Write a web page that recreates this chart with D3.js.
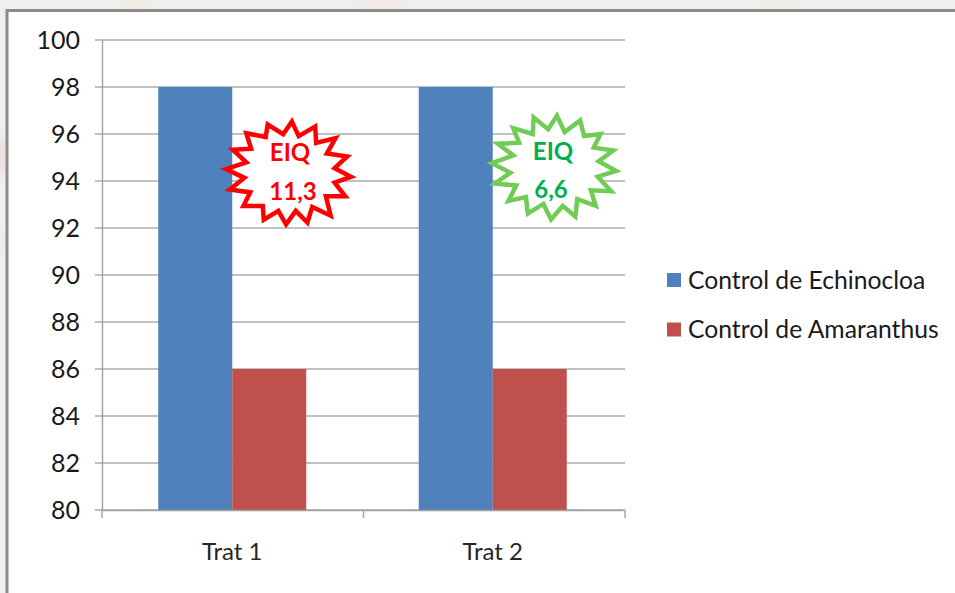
<!DOCTYPE html>
<html>
<head>
<meta charset="utf-8">
<script src="https://cdn.jsdelivr.net/npm/d3@7"></script>
<style>
  html, body { margin: 0; padding: 0; background: #efefef; overflow: hidden; }
  text { font-family: Lato, "Open Sans", sans-serif; }
</style>
</head>
<body>
<div id="wrapper"></div>
<script>
const categories = ["Trat 1", "Trat 2"];
const seriesNames = ["Control de Echinocloa", "Control de Amaranthus"];
const echinocloa = [98, 98];
const amaranthus = [86, 86];
const yTicks = [80, 82, 84, 86, 88, 90, 92, 94, 96, 98, 100];
const seriesColors = ["#4f81bd", "#c0504d"];

// hand drawn callouts, outlines traced in page pixels
const callouts = [
    {
        lines: ["EIQ", "11,3"],
        textColor: "#ff0000",
        stroke: "#ff0000",
        labelX: [290, 293],
        labelY: [153, 192],
        outline: [[292,120],[299,135],[316,125],[317,142],[337,137],[328,153],[349,156],[336,168],[353,177],[336,183],[347,197],[327,197],[332,217],[313,208],[308,224],[296,212],[286,226],[278,212],[263,221],[262,207],[242,207],[249,193],[228,190],[243,178],[224,169],[245,162],[231,149],[250,148],[245,132],[265,136],[267,123],[283,133]]
    },
    {
        lines: ["EIQ", "6,6"],
        textColor: "#00b050",
        stroke: "#70cc55",
        labelX: [553, 551],
        labelY: [152, 190],
        outline: [[557,114],[565,131],[581,119],[585,135],[602,133],[595,147],[615,150],[600,161],[618,171],[599,177],[613,192],[592,191],[597,207],[578,200],[576,218],[563,207],[551,221],[543,205],[527,215],[525,198],[507,202],[515,186],[493,184],[509,173],[490,163],[512,155],[496,143],[518,142],[512,127],[532,133],[533,116],[548,128]]
    }
];

const dimensions = {
    width: 955,
    height: 593,
    margin: { top: 40, right: 330, bottom: 83, left: 102 },
};
dimensions.boundedWidth = dimensions.width - dimensions.margin.left - dimensions.margin.right;
dimensions.boundedHeight = dimensions.height - dimensions.margin.top - dimensions.margin.bottom;

const wrapper = d3.select("#wrapper")
    .append("svg")
    .attr("width", dimensions.width)
    .attr("height", dimensions.height)
    .style("display", "block");

// faint ornaments of the slide background, only the edges show
wrapper.append("defs").append("filter")
    .attr("id", "soft")
    .append("feGaussianBlur")
    .attr("stdDeviation", 4);
const smudges = [[45, 2, 10, "#f1efea"], [135, 4, 16, "#f1ede4"], [380, 4, 22, "#f2ebe7"], [780, 6, 24, "#f0eee8"], [2, 155, 18, "#ece3e0"], [2, 240, 10, "#eeebe6"]];
wrapper.append("g")
    .attr("filter", "url(#soft)")
    .selectAll("circle")
    .data(smudges)
    .enter()
    .append("circle")
    .attr("cx", d => d[0])
    .attr("cy", d => d[1])
    .attr("r", d => d[2])
    .attr("fill", d => d[3]);

// slide frame
wrapper.append("rect")
    .attr("x", 7)
    .attr("y", 10.5)
    .attr("width", dimensions.width)
    .attr("height", dimensions.height)
    .attr("fill", "#fff")
    .attr("stroke", "#8c8c8c")
    .attr("stroke-width", 3);

const bounds = wrapper.append("g")
    .attr("transform", `translate(${dimensions.margin.left},${dimensions.margin.top})`);

// bands stop 2px short of the plot edge, the second group sits a bit left in the original
const xScaler = d3.scaleBand()
    .domain(categories)
    .range([0, dimensions.boundedWidth - 2])
    .paddingInner(0)
    .paddingOuter(0);

const barScaler = d3.scaleBand()
    .domain(seriesNames)
    .range([0, xScaler.bandwidth()])
    .paddingOuter(0.76)
    .paddingInner(0);

const yScaler = d3.scaleLinear()
    .domain([80, 100])
    .range([dimensions.boundedHeight, 0]);

// gridlines go first, bars sit over them
bounds.append("g")
    .selectAll("line")
    .data(yTicks)
    .enter()
    .append("line")
    .attr("x1", -7)
    .attr("x2", dimensions.boundedWidth)
    .attr("y1", d => yScaler(d))
    .attr("y2", d => yScaler(d))
    .attr("stroke", "#adadad")
    .attr("stroke-width", 1.4);

const rows = categories.map((c, i) => ({ category: c, values: [echinocloa[i], amaranthus[i]] }));

const groups = bounds.selectAll(".group")
    .data(rows)
    .enter()
    .append("g")
    .attr("class", "group")
    .attr("transform", d => `translate(${xScaler(d.category)},0)`);

groups.selectAll("rect")
    .data(d => d.values.map((v, i) => ({ name: seriesNames[i], value: v, color: seriesColors[i] })))
    .enter()
    .append("rect")
    .attr("x", d => barScaler(d.name))
    .attr("y", d => yScaler(d.value))
    .attr("width", barScaler.bandwidth())
    .attr("height", d => dimensions.boundedHeight - yScaler(d.value))
    .attr("fill", d => d.color);

const yAxisGen = d3.axisLeft(yScaler)
    .tickValues(yTicks)
    .tickSize(0)
    .tickPadding(22);
const yAxis = bounds.append("g").call(yAxisGen);
yAxis.selectAll("text")
    .attr("font-size", "25px")
    .attr("fill", "#1a1a1a")
    .style("font-family", "Lato, sans-serif");
yAxis.select(".domain")
    .attr("stroke", "#a0a0a0")
    .attr("stroke-width", 1.4);

const xAxisGen = d3.axisBottom(xScaler)
    .tickSize(0)
    .tickPadding(33);
const xAxis = bounds.append("g")
    .attr("transform", `translate(0,${dimensions.boundedHeight})`)
    .call(xAxisGen);
xAxis.selectAll("text")
    .attr("font-size", "24px")
    .attr("fill", "#262626")
    .style("font-family", "Lato, sans-serif");
xAxis.select(".domain")
    .attr("stroke", "#a0a0a0")
    .attr("stroke-width", 1.4);

// tick marks sit on the category boundaries, not the centres
bounds.append("g")
    .selectAll("line")
    .data([0, dimensions.boundedWidth / 2, dimensions.boundedWidth])
    .enter()
    .append("line")
    .attr("x1", d => d)
    .attr("x2", d => d)
    .attr("y1", dimensions.boundedHeight)
    .attr("y2", dimensions.boundedHeight + 8)
    .attr("stroke", "#a0a0a0")
    .attr("stroke-width", 1.4);

// legend
const legend = wrapper.append("g")
    .selectAll("g")
    .data(seriesNames)
    .enter()
    .append("g")
    .attr("transform", (d, i) => `translate(667,${280 + i * 49.5})`);

legend.append("rect")
    .attr("x", 0)
    .attr("y", -7)
    .attr("width", 14)
    .attr("height", 14)
    .attr("fill", (d, i) => seriesColors[i]);

legend.append("text")
    .attr("x", 21)
    .attr("y", 0)
    .attr("dy", "0.35em")
    .attr("font-size", "24.7px")
    .attr("fill", "#1a1a1a")
    .text(d => d);

// EIQ callouts
const callout = wrapper.append("g")
    .selectAll("g")
    .data(callouts)
    .enter()
    .append("g");

// outlines were traced on the outer edge, pull them in so the miters land there
function insetOutline(outline) {
    const [cx, cy] = d3.polygonCentroid(outline);
    return outline.map(([x, y]) => [cx + (x - cx) * 0.97, cy + (y - cy) * 0.97]);
}

callout.append("path")
    .attr("d", d => d3.line().curve(d3.curveLinearClosed)(insetOutline(d.outline)))
    .attr("fill", "#fff")
    .attr("stroke", d => d.stroke)
    .attr("stroke-width", 4.5)
    .attr("stroke-linejoin", "miter");

callout.selectAll("text")
    .data(d => d.lines.map((t, i) => ({ t, x: d.labelX[i], y: d.labelY[i], color: d.textColor })))
    .enter()
    .append("text")
    .attr("x", d => d.x)
    .attr("y", d => d.y)
    .attr("dy", "0.35em")
    .attr("text-anchor", "middle")
    .attr("font-size", "24px")
    .attr("font-weight", "bold")
    .attr("fill", d => d.color)
    .text(d => d.t);
</script>
</body>
</html>
